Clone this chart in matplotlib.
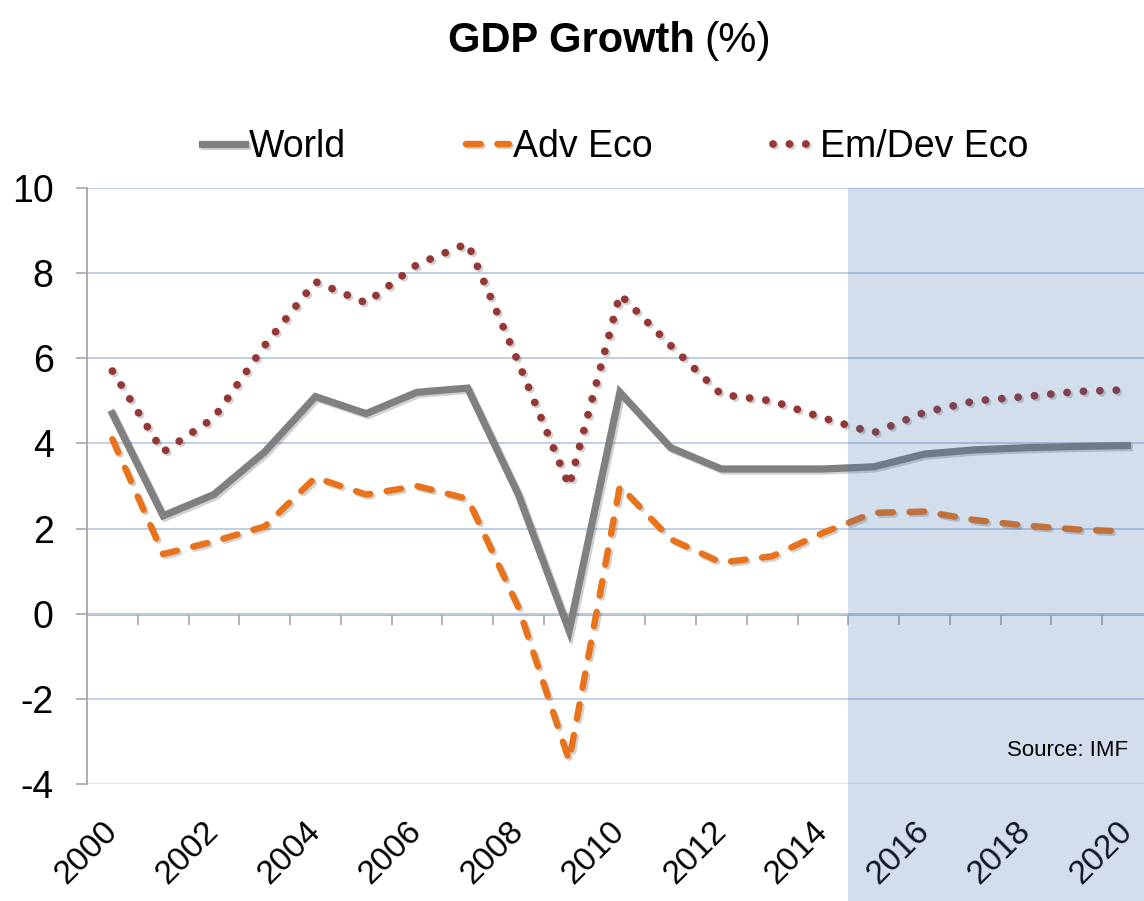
import numpy as np
import matplotlib
matplotlib.use("Agg")
import matplotlib.pyplot as plt
import matplotlib.patheffects as pe
from matplotlib.patches import Rectangle
from matplotlib.transforms import blended_transform_factory

# ---- data ----
years = list(range(2000, 2021))
world = [4.7, 2.3, 2.8, 3.8, 5.1, 4.7, 5.2, 5.3, 2.8, -0.4, 5.2,
         3.9, 3.4, 3.4, 3.4, 3.45, 3.75, 3.85, 3.9, 3.93, 3.95]
adv_eco = [4.1, 1.4, 1.7, 2.05, 3.2, 2.8, 3.0, 2.7, 0.15, -3.45, 3.0,
           1.75, 1.2, 1.35, 1.9, 2.37, 2.4, 2.2, 2.07, 1.98, 1.93]
em_dev_eco = [5.7, 3.8, 4.6, 6.3, 7.8, 7.3, 8.2, 8.7, 5.9, 3.0, 7.5,
              6.3, 5.15, 5.0, 4.6, 4.25, 4.73, 5.0, 5.1, 5.22, 5.26]
series_names = ["World", "Adv Eco", "Em/Dev Eco"]
y_ticks = [-4, -2, 0, 2, 4, 6, 8, 10]
label_years = [2000, 2002, 2004, 2006, 2008, 2010, 2012, 2014, 2016, 2018, 2020]
forecast_start = 2015

W, H = 1144, 901
NARROW = ["Liberation Sans Narrow", "Liberation Sans", "DejaVu Sans"]
REG = ["Liberation Sans", "DejaVu Sans"]

fig = plt.figure(figsize=(W / 100, H / 100), dpi=100)
fig.patch.set_facecolor("white")
ax = fig.add_axes([87 / W, 1 - 784 / H, 1 - 87 / W, (784 - 188) / H])

x = np.arange(len(years))
shadow = [pe.SimpleLineShadow(offset=(1.5, -1.5), alpha=0.18, shadow_color="black"), pe.Normal()]

ax.plot(x, world, color="#808080", lw=5.2, solid_joinstyle="miter",
        label=series_names[0], zorder=2.3, path_effects=shadow)
ax.plot(x, adv_eco, color="#E8731B", lw=4.6, linestyle=(0, (2.3, 2.6)),
        dash_capstyle="round", label=series_names[1], zorder=2.2, path_effects=shadow)
ax.plot(x, em_dev_eco, color="#953735", lw=5.6, linestyle=(0, (0.01, 2.1)),
        dash_capstyle="round", label=series_names[2], zorder=2.1, path_effects=shadow)

ax.set_xlim(-0.5, -0.5 + (W - 87) / 50.75)
ax.set_ylim(-4, 10)

# y axis
ax.set_yticks(y_ticks)
ax.set_yticklabels([str(v) for v in y_ticks], fontsize=27, family=REG)
ax.tick_params(axis="y", length=8, width=1.2, color="#a6a6a6", pad=16)
ax.yaxis.grid(True, color="#bccbe5", lw=1.3)
ax.get_ygridlines()[0].set_color("#dde3ee")
ax.set_axisbelow(True)

# x labels at the bottom, every 2 years
ax.set_xticks([years.index(y) for y in label_years])
ax.set_xticklabels([str(y) for y in label_years], fontsize=24, family=REG,
                   rotation=45, ha="right", va="center", rotation_mode="anchor")
ax.tick_params(axis="x", length=0, pad=31)

for s in ["top", "right", "bottom"]:
    ax.spines[s].set_visible(False)
ax.spines["left"].set_color("#a6a6a6")
ax.spines["left"].set_linewidth(1.3)

# category axis line at zero with boundary ticks
zero = ax.secondary_xaxis(4 / 14)
zero.set_xticks(np.arange(0.5, len(years), 1))
zero.tick_params(axis="x", length=8, width=1.2, color="#a6a6a6",
                 direction="out", labelbottom=False)
zero.spines["bottom"].set_color("#a6a6a6")
zero.spines["bottom"].set_linewidth(1.8)

# forecast shading (overlay, extends down over the labels)
trans = blended_transform_factory(ax.transData, ax.transAxes)
fx = years.index(forecast_start) - 0.5
shade = Rectangle((fx, -0.3), 30, 1.3, transform=trans, clip_on=False,
                  facecolor="#3a6ab0", alpha=0.22, edgecolor="none", zorder=5)
ax.add_patch(shade)

# legend
leg = ax.legend(loc="center", bbox_to_anchor=(615 / W, 1 - 147 / H),
                bbox_transform=fig.transFigure, ncol=3, frameon=False,
                prop={"family": REG, "size": 27}, handlelength=1.15,
                handletextpad=0.1, columnspacing=3.2)

# title: bold part + regular part
fig.text(695 / W, 1 - 52 / H, "GDP Growth", fontsize=30, fontweight="bold",
         family=NARROW, ha="right", va="baseline")
fig.text(704 / W, 1 - 52 / H, "(%)", fontsize=31, family=NARROW,
         ha="left", va="baseline")

ax.text(0.985, 0.0 + (784 - 750) / 596, "Source: IMF", transform=ax.transAxes,
        fontsize=16, family=NARROW, ha="right", va="center", zorder=6)

fig.savefig("out.png", dpi=100, facecolor="white")
